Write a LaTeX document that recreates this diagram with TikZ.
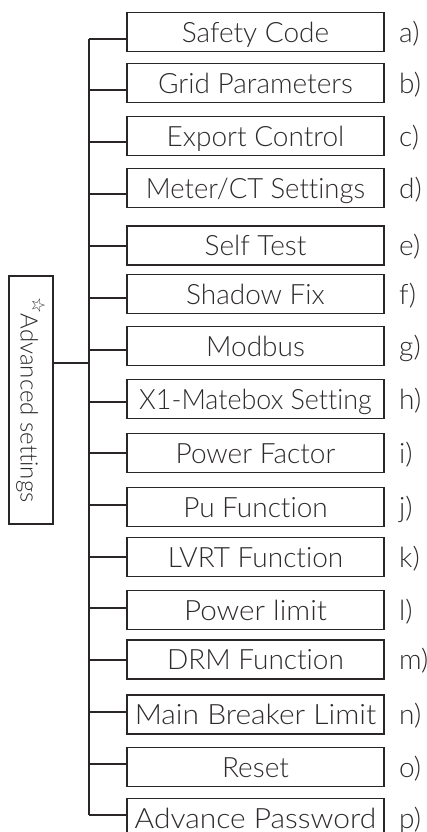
\documentclass[tikz,border=0pt]{standalone}
\usepackage{fontspec}
\setmainfont{Lato}[UprightFont={* Light},Ligatures={NoCommon}]
\newfontfamily\symfont{DejaVu Sans}
\definecolor{ln}{HTML}{2A2526}
\definecolor{tx}{HTML}{2F2B2B}
\begin{document}
\begin{tikzpicture}[x=1pt,y=-1pt,
  itembox/.style={draw=ln,line width=1.8pt,minimum width=257pt,minimum height=39pt,inner sep=0pt,text height=20.2pt,text depth=0pt,text=tx,font=\fontsize{28}{28}\selectfont},
  lab/.style={anchor=west,inner sep=0pt,text height=20.2pt,text depth=0pt,text=tx,font=\fontsize{28}{28}\selectfont},
  conn/.style={draw=ln,line width=1.1pt}]
\useasboundingbox (0,0) rectangle (427,832);
\begin{scope}
\clip (0,0) rectangle (427,832);
% items: name/top/bottom/branch/text/label
\foreach \n/\t/\b/\r/\s/\l in {
  a/12/52/39/Safety Code/a),
  b/63/103/90/Grid Parameters/b),
  c/116/156/142/Export Control/c),
  d/168/208/194/{\scalebox{0.98}[1]{Meter/CT Settings}}/d),
  e/225/266/246/Self Test/e),
  f/274/314/298/Shadow Fix/f),
  g/326/366/350/Modbus/g),
  h/379/419/402/{\scalebox{0.96}[1]{X1-Matebox Setting}}/h),
  i/433/473/453/Power Factor/i),
  j/487/527/505/Pu Function/j),
  k/537/577/557/LVRT Function/k),
  l/590/630/608/{\scalebox{1.06}[1]{Power limit}}/l),
  m/640/679/660/DRM Function/m),
  n/695/734/712/{\scalebox{1.07}[1]{Main Breaker Limit}}/n),
  o/747/787/764/Reset/o),
  p/798/838/815/{\scalebox{1.07}[1]{Advance Password}}/p)}{
  \node[itembox] (\n) at (255.5,{(\t+\b)/2}) {\s};
  \node[lab] (lab\n) at (399,{(\t+\b)/2}) {\l};
  \coordinate (t\n) at (89,\r);
  \draw[conn] (t\n) -- (t\n -| \n.west);
}
\end{scope}
\draw[conn] (ta) -- (tp);
\node[draw=ln,line width=1.5pt,rotate=-90,minimum width=248pt,minimum height=44pt,inner sep=0pt,text=tx,font=\fontsize{24}{24}\selectfont] (adv) at (31,400) {\raisebox{0.5em}{\symfont\fontsize{18}{18}\selectfont ☆}Advanced settings};
\coordinate (tadv) at (89,363);
\draw[conn] (tadv -| adv.north) -- (tadv);
\end{tikzpicture}
\end{document}
